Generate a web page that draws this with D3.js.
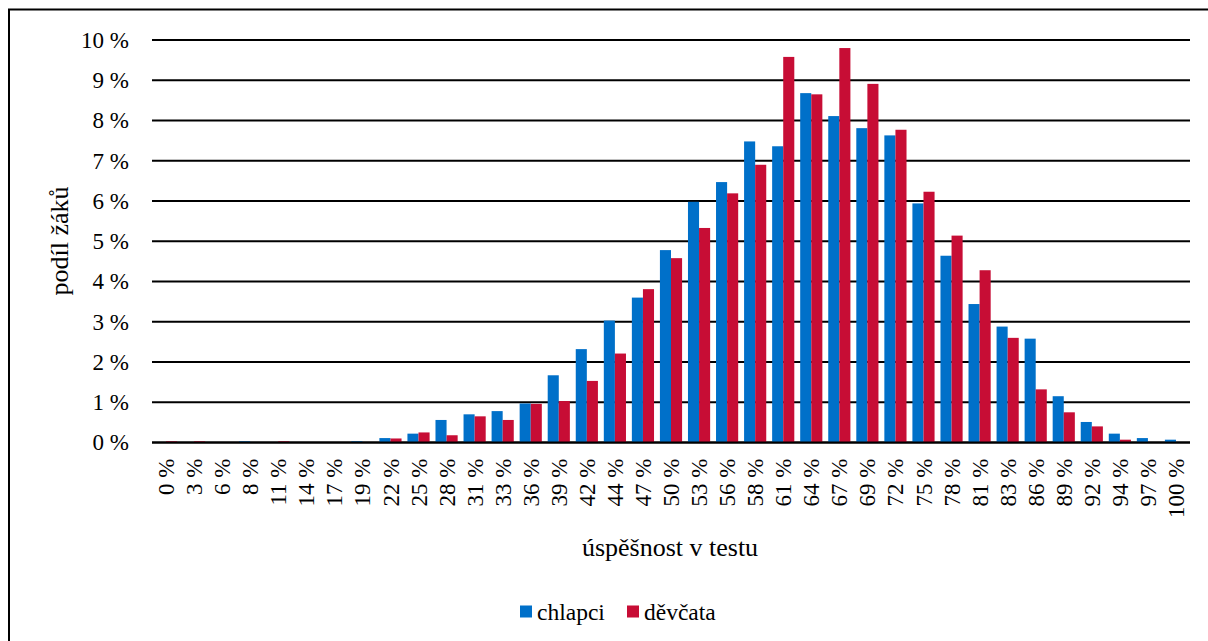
<!DOCTYPE html>
<html>
<head>
<meta charset="utf-8">
<script src="https://cdn.jsdelivr.net/npm/d3@7"></script>
<style>
  html, body { margin: 0; padding: 0; background: #fff; }
  svg { display: block; font-family: "Liberation Serif", "Times New Roman", serif; }
</style>
</head>
<body>
<svg id="chart" width="1208" height="641"></svg>
<script>
const categories = ["0 %","3 %","6 %","8 %","11 %","14 %","17 %","19 %","22 %","25 %","28 %","31 %","33 %","36 %","39 %","42 %","44 %","47 %","50 %","53 %","56 %","58 %","61 %","64 %","67 %","69 %","72 %","75 %","78 %","81 %","83 %","86 %","89 %","92 %","94 %","97 %","100 %"];
const chlapci = [0,0,0,0.03,0,0,0,0.03,0.11,0.22,0.56,0.70,0.78,0.97,1.67,2.32,3.03,3.60,4.78,5.98,6.47,7.48,7.36,8.68,8.11,7.81,7.63,5.94,4.64,3.44,2.88,2.58,1.15,0.51,0.22,0.11,0.07];
const devcata = [0.03,0.03,0,0,0.03,0,0,0,0.10,0.25,0.18,0.65,0.56,0.96,1.03,1.53,2.21,3.81,4.58,5.33,6.19,6.90,9.58,8.65,9.80,8.91,7.77,6.23,5.14,4.28,2.60,1.32,0.75,0.40,0.07,0,0];
const seriesNames = ["chlapci","děvčata"];
const seriesColors = ["#0070C9","#C70D35"];
const yTicks = [0,1,2,3,4,5,6,7,8,9,10];
const yTickLabels = yTicks.map(v => v + " %");
const xTitle = "úspěšnost v testu";
const yTitle = "podíl žáků";

(function () {
const svg = d3.select("#chart");
const mLeft = 152, mRight = 1190, mTop = 40, mBottom = 442.5;
const tickFont = 23;

// outer frame
svg.append("rect").attr("x", 9).attr("y", 9.5).attr("width", 1220).attr("height", 660)
  .attr("fill", "none").attr("stroke", "#000").attr("stroke-width", 2);

const x = d3.scaleBand().domain(categories).range([mLeft, mRight]).paddingInner(0.21).paddingOuter(0.105);
const xs = d3.scaleBand().domain(seriesNames).range([0, x.bandwidth()]);
const y = d3.scaleLinear().domain([0, 10]).range([mBottom, mTop]);

// gridlines
svg.append("g").selectAll("line").data(yTicks).join("line")
  .attr("x1", mLeft).attr("x2", mRight)
  .attr("y1", d => y(d)).attr("y2", d => y(d))
  .attr("stroke", "#000").attr("stroke-width", 1.9);

// y tick labels
const yAxis = d3.axisLeft(y).tickValues(yTicks).tickFormat((d, i) => yTickLabels[i]).tickSize(0).tickPadding(0);
const gy = svg.append("g").attr("transform", `translate(${129},0)`).call(yAxis);
gy.select(".domain").remove();
gy.selectAll("text").attr("font-size", tickFont).attr("fill", "#000")
  .attr("font-family", "'Liberation Serif', 'Times New Roman', serif");

// bars
const data = categories.map((c, i) => ({c, vals: [chlapci[i], devcata[i]]}));
const groups = svg.append("g").selectAll("g").data(data).join("g")
  .attr("transform", d => `translate(${x(d.c)},0)`);
groups.selectAll("rect").data(d => d.vals.map((v, j) => ({v, name: seriesNames[j], color: seriesColors[j]})))
  .join("rect")
  .attr("x", d => xs(d.name))
  .attr("width", xs.bandwidth())
  .attr("y", d => y(d.v))
  .attr("height", d => y(0) - y(d.v))
  .attr("fill", d => d.color);

// zero axis line on top
svg.append("line").attr("x1", mLeft).attr("x2", mRight).attr("y1", y(0)).attr("y2", y(0))
  .attr("stroke", "#000").attr("stroke-width", 1.9);

// x tick labels
const xAxis = d3.axisBottom(x).tickSize(0).tickPadding(0);
const gx = svg.append("g").attr("transform", `translate(0,${y(0)})`).call(xAxis);
gx.select(".domain").remove();
gx.selectAll("text")
  .attr("font-size", tickFont).attr("fill", "#000")
  .attr("font-family", "'Liberation Serif', 'Times New Roman', serif")
  .attr("transform", "rotate(-90)")
  .attr("text-anchor", "end")
  .attr("x", -16).attr("y", 0).attr("dy", "0.35em");

// axis titles
svg.append("text").attr("x", 670).attr("y", 556).attr("text-anchor", "middle")
  .attr("font-size", 26).text(xTitle);
svg.append("text").attr("transform", "translate(68,241) rotate(-90)").attr("text-anchor", "middle")
  .attr("font-size", 26).text(yTitle);

// legend
const legend = svg.append("g").attr("transform", "translate(520,612)");
const lx = [0, 107];
seriesNames.forEach((n, i) => {
  legend.append("rect").attr("x", lx[i]).attr("y", -6.5).attr("width", 12).attr("height", 12).attr("fill", seriesColors[i]);
  legend.append("text").attr("x", lx[i] + 17).attr("y", 0).attr("dy", "0.35em")
    .attr("font-size", 23.5).text(n);
});
})();
</script>
</body>
</html>
